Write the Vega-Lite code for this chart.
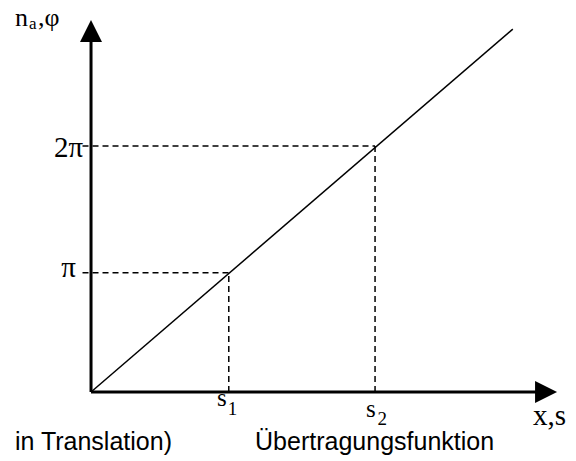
{
  "$schema": "https://vega.github.io/schema/vega-lite/v6.json",
  "width": 576,
  "height": 461,
  "autosize": {"type": "none"},
  "padding": 0,
  "background": "white",
  "config": {"view": {"stroke": null}},
  "encoding": {
    "x": {"field": "x", "type": "quantitative", "scale": {"domain": [-0.641, 3.415], "nice": false, "zero": false}, "axis": null},
    "y": {"field": "y", "type": "quantitative", "scale": {"domain": [-0.561, 3.187], "nice": false, "zero": false}, "axis": null}
  },
  "layer": [
    {
      "data": {"values": [
        {"x": -0.06, "y": 0.97, "x2": 0.97, "y2": 0.97},
        {"x": -0.06, "y": 2.0, "x2": 2.0, "y2": 2.0},
        {"x": 0.97, "y": 0, "x2": 0.97, "y2": 0.97},
        {"x": 2.0, "y": 0, "x2": 2.0, "y2": 2.0}
      ]},
      "mark": {"type": "rule", "color": "black", "strokeWidth": 1.5, "strokeDash": [6, 4]},
      "encoding": {"x2": {"field": "x2"}, "y2": {"field": "y2"}}
    },
    {
      "data": {"values": [{"x": 0, "y": 0}, {"x": 2.97, "y": 2.95}]},
      "mark": {"type": "line", "color": "black", "strokeWidth": 1.5}
    },
    {
      "data": {"values": [
        {"x": 0, "y": 0, "x2": 3.15, "y2": 0},
        {"x": 0, "y": 0, "x2": 0, "y2": 2.9}
      ]},
      "mark": {"type": "rule", "color": "black", "strokeWidth": 3},
      "encoding": {"x2": {"field": "x2"}, "y2": {"field": "y2"}}
    },
    {
      "data": {"values": [{"x": 0, "y": 2.935}]},
      "mark": {"type": "point", "shape": "M0,-1L-1,1L1,1Z", "size": 484, "filled": true, "color": "black", "opacity": 1, "strokeWidth": 0}
    },
    {
      "data": {"values": [{"x": 3.204, "y": 0}]},
      "mark": {"type": "point", "shape": "M1,0L-1,-1L-1,1Z", "size": 484, "filled": true, "color": "black", "opacity": 1, "strokeWidth": 0}
    },
    {
      "data": {"values": [
        {"x": -0.535, "y": 2.976, "label": "n"},
        {"x": -0.373, "y": 2.976, "label": ",φ"}
      ]},
      "mark": {"type": "text", "font": "Liberation Serif", "fontSize": 26, "align": "left", "baseline": "alphabetic", "color": "black"},
      "encoding": {"text": {"field": "label"}}
    },
    {
      "data": {"values": [
        {"x": 3.113, "y": -0.268, "label": "x,s"}
      ]},
      "mark": {"type": "text", "font": "Liberation Serif", "fontSize": 29, "align": "left", "baseline": "alphabetic", "color": "black"},
      "encoding": {"text": {"field": "label"}}
    },
    {
      "data": {"values": [
        {"x": -0.437, "y": 2.951, "label": "a"}
      ]},
      "mark": {"type": "text", "font": "Liberation Serif", "fontSize": 17, "align": "left", "baseline": "alphabetic", "color": "black"},
      "encoding": {"text": {"field": "label"}}
    },
    {
      "data": {"values": [
        {"x": -0.056, "y": 1.911, "label": "2π"},
        {"x": -0.106, "y": 0.935, "label": "π"}
      ]},
      "mark": {"type": "text", "font": "Liberation Serif", "fontSize": 29, "align": "right", "baseline": "alphabetic", "color": "black"},
      "encoding": {"text": {"field": "label"}}
    },
    {
      "data": {"values": [
        {"x": 0.887, "y": -0.114, "label": "s"},
        {"x": 1.937, "y": -0.203, "label": "s"}
      ]},
      "mark": {"type": "text", "font": "Liberation Serif", "fontSize": 25, "align": "left", "baseline": "alphabetic", "color": "black"},
      "encoding": {"text": {"field": "label"}}
    },
    {
      "data": {"values": [
        {"x": 0.962, "y": -0.187, "label": "1"},
        {"x": 2.018, "y": -0.27, "label": "2"}
      ]},
      "mark": {"type": "text", "font": "Liberation Serif", "fontSize": 19, "align": "left", "baseline": "alphabetic", "color": "black"},
      "encoding": {"text": {"field": "label"}}
    },
    {
      "data": {"values": [
        {"x": 0.57, "y": -0.472, "label": "in Translation)", "a": "right"},
        {"x": 1.155, "y": -0.472, "label": "Übertragungsfunktion", "a": "left"}
      ]},
      "layer": [
        {"transform": [{"filter": "datum.a == 'right'"}], "mark": {"type": "text", "font": "Liberation Sans", "fontSize": 25, "align": "right", "baseline": "alphabetic", "color": "black"}, "encoding": {"text": {"field": "label"}}},
        {"transform": [{"filter": "datum.a == 'left'"}], "mark": {"type": "text", "font": "Liberation Sans", "fontSize": 25, "align": "left", "baseline": "alphabetic", "color": "black"}, "encoding": {"text": {"field": "label"}}}
      ]
    }
  ]
}
